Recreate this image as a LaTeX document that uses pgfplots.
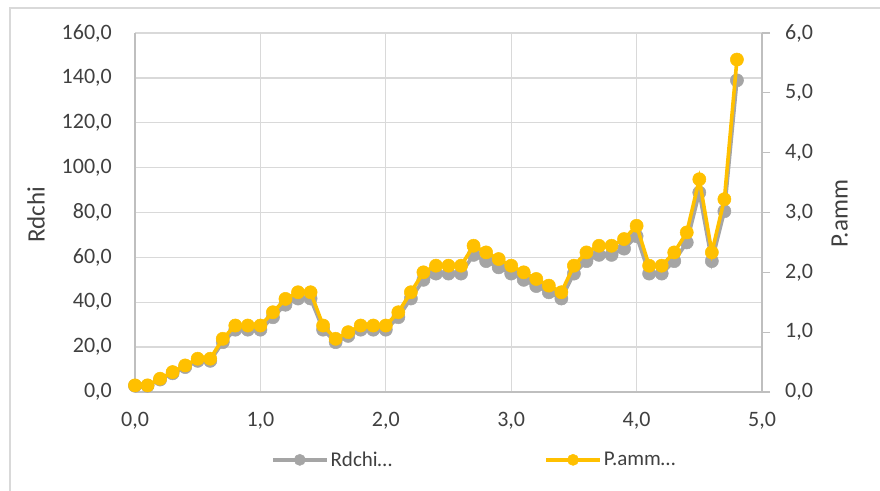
\documentclass[border=0pt]{standalone}
\usepackage{pgfplots}
\usepackage{pgfplotstable}
\pgfplotsset{compat=1.18}
\usepackage{fontspec}
\setmainfont{Carlito}

\definecolor{rdgrey}{HTML}{A5A5A5}
\definecolor{pamber}{HTML}{FFC000}
\definecolor{gridc}{HTML}{D9D9D9}
\definecolor{axisc}{HTML}{BFBFBF}
\definecolor{textc}{HTML}{404040}

% x, Rdchi (left axis), P.amm (right axis)
\pgfplotstableread{
x    rd      pa
0.0  2.78    0.111
0.1  2.78    0.111
0.2  5.56    0.222
0.3  8.33    0.333
0.4  11.11   0.444
0.5  13.89   0.556
0.6  13.89   0.556
0.7  22.22   0.889
0.8  27.78   1.111
0.9  27.78   1.111
1.0  27.78   1.111
1.1  33.33   1.333
1.2  38.89   1.556
1.3  41.67   1.667
1.4  41.67   1.667
1.5  27.78   1.111
1.6  22.22   0.889
1.7  25.00   1.000
1.8  27.78   1.111
1.9  27.78   1.111
2.0  27.78   1.111
2.1  33.33   1.333
2.2  41.67   1.667
2.3  50.00   2.000
2.4  52.78   2.111
2.5  52.78   2.111
2.6  52.78   2.111
2.7  61.11   2.444
2.8  58.33   2.333
2.9  55.56   2.222
3.0  52.78   2.111
3.1  50.00   2.000
3.2  47.22   1.889
3.3  44.44   1.778
3.4  41.67   1.667
3.5  52.78   2.111
3.6  58.33   2.333
3.7  61.11   2.444
3.8  61.11   2.444
3.9  63.89   2.556
4.0  69.44   2.778
4.1  52.78   2.111
4.2  52.78   2.111
4.3  58.33   2.333
4.4  66.67   2.667
4.5  88.89   3.556
4.6  58.33   2.333
4.7  80.56   3.222
4.8  138.89  5.556
}\chartdata

\pgfplotsset{
  commonaxis/.style={
    at={(135pt,98pt)}, anchor=south west,
    scale only axis, width=627pt, height=359pt,
    xmin=0, xmax=5, clip=false,
    axis line style={axisc, line width=1.3pt},
    ticklabel style={text=textc, font=\fontsize{22}{26}\selectfont},
    /pgf/number format/fixed, /pgf/number format/fixed zerofill,
    /pgf/number format/precision=1, /pgf/number format/use comma,
    /pgf/number format/assume math mode=true,
    label style={text=textc, font=\fontsize{25}{30}\selectfont},
  },
  seriesstyle/.style={line width=3.6pt, mark=*, mark size=6.6pt,
    mark options={solid, line width=0.5pt, fill=#1, draw=#1}, color=#1},
}

\begin{document}
\begin{tikzpicture}[x=1pt, y=1pt]
\useasboundingbox (0,0) rectangle (880,490);
% chart area frame
\draw[gridc, line width=1.2pt] (10,-10) -- (10,482) -- (890,482);

\begin{axis}[commonaxis,
  ymin=0, ymax=160,
  xtick={0,1,2,3,4,5}, ytick={0,20,...,160},
  axis x line*=bottom, axis y line*=left,
  major tick length=0pt,
  grid=major, major grid style={gridc, line width=1.3pt},
  xticklabel style={anchor=north, inner sep=0pt, yshift=-20pt},
  yticklabel style={anchor=east, inner sep=0pt, xshift=-23pt},
  ylabel={Rdchi},
  ylabel style={at={(axis description cs:-0.158,0.494)}, anchor=center},
]
\addplot[seriesstyle=rdgrey] table[x=x, y=rd] {\chartdata};
\end{axis}

\begin{axis}[commonaxis,
  ymin=0, ymax=6,
  ytick={0,1,...,6},
  axis x line=none, axis y line*=right,
  tick align=outside, major tick length=8pt,
  major tick style={axisc, line width=1.3pt},
  yticklabel style={anchor=west, inner sep=0pt, xshift=15pt},
  ylabel={P.amm},
  ylabel style={at={(axis description cs:1.124,0.496)}, anchor=center},
  legend columns=2,
  legend style={at={(axis description cs:0.541,-0.189)}, anchor=center,
    draw=none, fill=none, text=textc,
    font=\fontsize{21}{25}\selectfont,
    /tikz/every even column/.append style={column sep=150pt},
    nodes={inner sep=2pt}},
  legend image code/.code={%
    \draw[#1, mark size=5.6pt, mark repeat=2, mark phase=2]
      plot coordinates {(0pt,0pt) (27pt,0pt) (54pt,0pt)};},
]
\addlegendimage{seriesstyle=rdgrey}
\addlegendentry{Rdchi…}
\addplot[seriesstyle=pamber] table[x=x, y=pa] {\chartdata};
\addlegendentry{P.amm…}
\end{axis}
\end{tikzpicture}
\end{document}
